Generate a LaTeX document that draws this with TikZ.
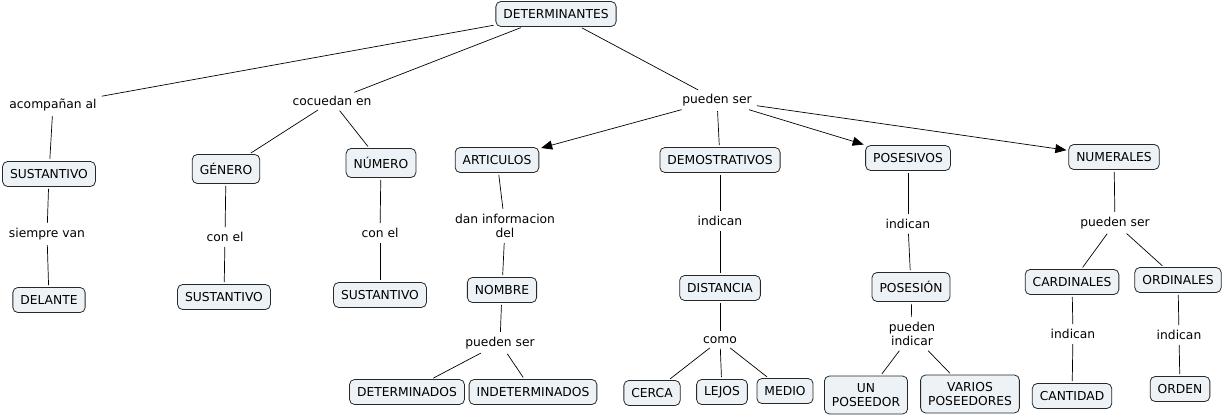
\documentclass[tikz,border=0pt]{standalone}
\usepackage{fontspec}
\setmainfont{DejaVu Sans}
\usetikzlibrary{arrows.meta}
\definecolor{boxfill}{RGB}{236,242,246}
\definecolor{boxline}{RGB}{40,40,40}

\begin{document}
\begin{tikzpicture}[x=1pt, y=-1pt,
      concept/.style={draw=boxline, fill=boxfill, rounded corners=5pt, line width=0.8pt,
                      font=\fontsize{12.3}{14}\selectfont, inner xsep=7.5pt, inner ysep=2pt,
                      minimum height=25pt, align=center},
      tall concept/.style={concept, minimum height=29pt},
      double concept/.style={concept, minimum height=38pt},
      link/.style={font=\fontsize{12.3}{14.5}\selectfont, inner sep=3pt, align=center},
      conn/.style={line width=0.7pt, shorten <=2pt, shorten >=2pt},
      arr/.style={conn, -{Triangle[length=11pt, width=9pt]}}]
      \useasboundingbox (0,0) rectangle (1223,417);
      \node[concept] (det) at (556,14) {DETERMINANTES};
      \node[link] (acomp) at (53,105) {acompañan al};
      \node[link] (cocu) at (332,101) {cocuedan en};
      \node[link] (pueden) at (717,100) {pueden ser};
      \node[concept] (sust) at (49,174) {SUSTANTIVO};
      \node[link] (siempre) at (47,234) {siempre van};
      \node[concept] (delante) at (49,300) {DELANTE};
      \node[tall concept] (genero) at (226,169) {GÉNERO};
      \node[link] (conel) at (225,237) {con el};
      \node[concept] (sustg) at (224,297) {SUSTANTIVO};
      \node[tall concept] (numero) at (381,163) {NÚMERO};
      \node[link] (conelb) at (380,233) {con el};
      \node[concept] (sustn) at (380,295) {SUSTANTIVO};
      \node[concept] (artic) at (497,160) {ARTICULOS};
      \node[link] (dan) at (505,226) {dan informacion\\del};
      \node[concept] (nombre) at (502,290) {NOMBRE};
      \node[link] (puedenn) at (500,343) {pueden ser};
      \node[concept] (detdos) at (407,392) {DETERMINADOS};
      \node[concept] (indet) at (533,392) {INDETERMINADOS};
      \node[concept] (demos) at (720,160) {DEMOSTRATIVOS};
      \node[link] (indd) at (720,221) {indican};
      \node[concept] (dist) at (720,288) {DISTANCIA};
      \node[link] (como) at (720,340) {como};
      \node[concept] (cerca) at (652,393) {CERCA};
      \node[concept] (lejos) at (722,392) {LEJOS};
      \node[concept] (medio) at (785,391) {MEDIO};
      \node[concept] (poses) at (908,158) {POSESIVOS};
      \node[link] (indp) at (908,224) {indican};
      \node[tall concept] (posesion) at (911,287) {POSESIÓN};
      \node[link] (pind) at (912,334) {pueden\\indicar};
      \node[double concept] (unpos) at (866,395) {UN\\POSEEDOR};
      \node[double concept] (varpos) at (970,394) {VARIOS\\POSEEDORES};
      \node[concept] (numer) at (1114,157) {NUMERALES};
      \node[link] (puedennum) at (1115,223) {pueden ser};
      \node[concept] (card) at (1072,282) {CARDINALES};
      \node[concept] (ord) at (1178,280) {ORDINALES};
      \node[link] (indc) at (1073,334) {indican};
      \node[link] (indo) at (1179,335) {indican};
      \node[concept] (cant) at (1072,396) {CANTIDAD};
      \node[concept] (orden) at (1180,389) {ORDEN};
      \draw[conn] (det) -- (acomp);
      \draw[conn] (det) -- (cocu);
      \draw[conn] (det) -- (pueden);
      \draw[conn] (acomp) -- (sust);
      \draw[conn] (sust) -- (siempre);
      \draw[conn] (siempre) -- (delante);
      \draw[conn] (cocu) -- (genero);
      \draw[conn] (cocu) -- (numero);
      \draw[conn] (genero) -- (conel);
      \draw[conn] (conel) -- (sustg);
      \draw[conn] (numero) -- (conelb);
      \draw[conn] (conelb) -- (sustn);
      \draw[arr] (pueden) -- (artic);
      \draw[conn] (pueden) -- (demos);
      \draw[arr] (pueden) -- (poses);
      \draw[arr] (pueden) -- (numer);
      \draw[conn] (artic) -- (dan);
      \draw[conn] (dan) -- (nombre);
      \draw[conn] (nombre) -- (puedenn);
      \draw[conn] (puedenn) -- (detdos);
      \draw[conn] (puedenn) -- (indet);
      \draw[conn] (demos) -- (indd);
      \draw[conn] (indd) -- (dist);
      \draw[conn] (dist) -- (como);
      \draw[conn] (como) -- (cerca);
      \draw[conn] (como) -- (lejos);
      \draw[conn] (como) -- (medio);
      \draw[conn] (poses) -- (indp);
      \draw[conn] (indp) -- (posesion);
      \draw[conn] (posesion) -- (pind);
      \draw[conn] (pind) -- (unpos);
      \draw[conn] (pind) -- (varpos);
      \draw[conn] (numer) -- (puedennum);
      \draw[conn] (puedennum) -- (card);
      \draw[conn] (puedennum) -- (ord);
      \draw[conn] (card) -- (indc);
      \draw[conn] (indc) -- (cant);
      \draw[conn] (ord) -- (indo);
      \draw[conn] (indo) -- (orden);
\end{tikzpicture}
\end{document}
